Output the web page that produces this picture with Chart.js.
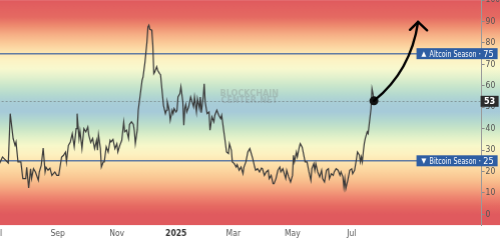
<!DOCTYPE html>
<html>
<head>
<meta charset="utf-8">
<script src="https://cdn.jsdelivr.net/npm/chart.js@4.4.1/dist/chart.umd.min.js"></script>
<style>
    html, body { margin: 0; padding: 0; width: 500px; height: 243px; overflow: hidden; background: #fff; }
    #wrap { position: absolute; left: 0; top: 0; width: 530px; height: 262px; }
</style>
</head>
<body>
<div id="wrap"><canvas id="seasonChart"></canvas></div>
<script>
// days counted from 1 Jul 2024
const days = [
    2, 5, 11, 13, 16, 18, 19, 21, 24, 26, 29, 30, 32, 34, 35, 37, 39, 42, 43, 45,
    47, 49, 50, 52, 54, 56, 59, 61, 63, 66, 68, 70, 71, 73, 75, 77, 79, 81, 82, 84,
    85, 87, 89, 91, 93, 94, 96, 98, 100,
    102, 103, 104, 106, 107, 109, 110, 112, 114, 116, 117, 119, 121, 123, 124, 126, 128, 130, 131, 133,
    135, 136, 138, 140, 141, 142, 144, 145, 147, 149, 150, 152, 154, 155, 156, 157, 159, 160, 161, 162,
    164, 165, 167, 168, 169, 171, 173, 174, 175, 177, 178, 180, 181, 182, 184, 185, 186, 188, 189, 191,
    192, 193, 194, 195, 197,
    199, 200, 202, 203, 205, 206, 208, 209, 210, 212, 213, 214, 216, 218, 219, 221, 223, 224, 226, 228,
    230, 231, 233, 234, 236, 238, 239, 241, 242, 244, 246, 247, 249, 251, 253, 254, 256, 258, 260, 261,
    263, 265, 266, 268, 270, 272, 273, 275, 277, 279, 280, 282, 284, 285, 287, 289, 291, 292, 294, 297,
    298, 300, 302, 304, 305, 306, 308, 309, 311, 312, 314, 316, 317, 319, 321, 323, 324, 326, 327, 328,
    330, 332, 334, 335, 337, 339, 341, 342, 344, 346, 347, 349, 351, 353, 354, 356, 357, 358, 359, 361,
    363, 365, 366, 368, 370, 371, 373, 374, 375, 376, 377, 378, 379, 381, 382, 384, 385, 386, 387, 388
];
const altIndex = [
    23.8, 26.8, 24, 47, 35.4, 32.2, 33.8, 24.5, 24.5, 16.7, 16.7, 22, 12.3, 21.3, 16.7, 21.3, 19.8, 15.9, 19.8, 22.9,
    31, 19.8, 22, 20.6, 21.6, 18.2, 19.8, 18.2, 18.2, 26.8, 27.6, 29.1, 24.5, 32.2, 33.8, 37.7, 31.6, 40, 47, 35.4,
    39, 30.7, 40, 38.5, 40.8, 37, 33.5, 35.4, 30.7,
    34.6, 30, 37.2, 30.7, 22.1, 24.5, 24.5, 31.6, 29.1, 34.6, 33.8, 35, 30.7, 33, 29.1, 32.2, 34.6, 43.1, 38.5, 39.3,
    35.4, 42, 43.2, 42, 38.9, 33, 39.4, 48.6, 55.6, 62.6, 64.2, 71.2, 80.5, 87.5, 88.3, 86.4, 86, 79, 65.7, 66.5,
    68.9, 67.3, 65.7, 65.2, 60.3, 50.9, 47, 48.6, 52.5, 48.6, 43.9, 48.6, 47, 49.4, 47.8, 48.6, 54.8, 56.4, 59.6, 52.5,
    41.6, 49.4, 51.3, 47.8, 50.2,
    54.8, 53.3, 50.2, 54.8, 47.8, 54, 49.4, 54.8, 47.5, 54.8, 61, 52.5, 47, 47.8, 39.3, 45.5, 43.2, 46.3, 48.6, 46.3,
    44.7, 46.3, 39.3, 36.1, 29.1, 28.4, 33, 29.9, 24.5, 23.7, 22.1, 23.2, 20.6, 22.1, 19, 22.1, 24.5, 29.1, 30.7, 29.1,
    26, 22.1, 20.6, 21.3, 19.8, 21.6, 21.3, 18.2, 19.8, 20.6, 16.7, 18.2, 14.3, 14.3, 16.7, 20.6, 22.1, 19.8, 21.3, 16.7,
    20.6, 17.5, 15.1, 18.2, 27.6, 24.5, 29.1, 26.8, 31.4, 33, 31.4, 26.8, 24.5, 24.5, 19.8, 15.9, 21.3, 23.7, 20.6, 23.7,
    19.8, 17.5, 20.6, 16.7, 15.1, 20.6, 21.3, 16.7, 19, 18.2, 19.8, 21.3, 20.6, 18.2, 19.8, 17.5, 12.8, 16.7, 12, 15.9,
    20.6, 21.3, 19, 20.6, 26, 29.1, 27.6, 24.5, 26.8, 24.5, 29.1, 33, 35.4, 38.5, 37.7, 45.5, 49.4, 58.7, 56.4, 53
];
const tickDays = [0, 62, 123, 184, 243, 304, 365];
const tickLabels = ['Jul', 'Sep', 'Nov', '2025', 'Mar', 'May', 'Jul'];
const yTicks = [0, 10, 20, 30, 40, 50, 60, 70, 80, 90, 100];
const altSeason = 75;
const btcSeason = 25;

// background colour by index value
const bandStops = [
    [100, '#e05a5e'], [92, '#e56a62'], [88, '#ee8b6f'], [84, '#f6ae85'], [80, '#fbca98'],
    [76, '#fde3ae'], [72, '#fdf3c4'], [68, '#f8f9cf'], [64, '#e2f1cd'], [60, '#c9e6cb'],
    [56, '#b5dacf'], [52, '#a8cdd7'], [48, '#a6cad9'], [44, '#b3d8cf'], [40, '#c8e5c7'],
    [36, '#e2f1c9'], [32, '#f8f8ca'], [28, '#fdf1c0'], [24, '#fde3ae'], [20, '#fcd49e'],
    [16, '#f9c18f'], [12, '#f5a57f'], [8, '#ee8570'], [4, '#e66a62'], [0, '#e05a5e'], [-5, '#e05a5e']
];

const FONT = '"Liberation Sans Narrow", "DejaVu Sans Condensed", "Liberation Sans", sans-serif';

const bands = {
    id: 'bands',
    beforeDraw(chart) {
        const { ctx, chartArea: a, scales: { y } } = chart;
        const top = y.getPixelForValue(y.max);
        const bottom = y.getPixelForValue(y.min);
        const g = ctx.createLinearGradient(0, top, 0, bottom);
        bandStops.forEach(([v, c]) => g.addColorStop((y.max - v) / (y.max - y.min), c));
        ctx.save();
        ctx.fillStyle = g;
        ctx.fillRect(0, a.top, chart.width, a.bottom - a.top);

        // watermark
        ctx.fillStyle = 'rgba(120,120,120,0.28)';
        ctx.font = 'bold 9px ' + FONT;
        ctx.textAlign = 'center';
        ctx.textBaseline = 'middle';
        const cx = a.left + a.width * 0.52;
        ctx.fillText('BLOCKCHAIN', cx, a.top + 93.5, 60);
        ctx.fillText('CENTER.NET', cx, a.top + 101, 60);
        ctx.restore();
    }
};

const guides = {
    id: 'guides',
    beforeDatasetsDraw(chart) {
        const { ctx, chartArea: a, scales: { y } } = chart;
        ctx.save();
        ctx.strokeStyle = 'rgba(70,105,160,0.85)';
        ctx.lineWidth = 1.5;
        [altSeason, btcSeason].forEach(v => {
            const py = y.getPixelForValue(v);
            ctx.beginPath();
            ctx.moveTo(a.left, py);
            ctx.lineTo(a.right, py);
            ctx.stroke();
        });
        const last = altIndex[altIndex.length - 1];
        const py = Math.round(y.getPixelForValue(last)) + 0.5;
        ctx.strokeStyle = 'rgba(90,90,90,0.6)';
        ctx.lineWidth = 0.8;
        ctx.setLineDash([2, 2]);
        ctx.beginPath();
        ctx.moveTo(a.left, py);
        ctx.lineTo(a.right, py);
        ctx.stroke();
        ctx.restore();
    }
};

function labelBox(ctx, a, py, arrow, name, value) {
    const right = a.right + 16;
    const left = a.right - 65;
    ctx.fillStyle = '#2e5ea3';
    ctx.fillRect(left, py - 5.5, right - left, 11);
    ctx.fillStyle = '#fff';
    ctx.textBaseline = 'middle';
    ctx.textAlign = 'left';
    ctx.font = '7px ' + FONT;
    ctx.fillText(arrow, left + 5, py + 0.5);
    ctx.font = '9px ' + FONT;
    ctx.fillText(name, left + 13, py + 0.5, 47);
    ctx.fillText('·', a.right - 3, py + 0.5);
    ctx.textAlign = 'right';
    ctx.fillText(value, right - 4, py + 0.5);
}

const annotations = {
    id: 'annotations',
    afterDraw(chart) {
        const { ctx, chartArea: a, scales: { x, y } } = chart;
        const n = days.length - 1;
        const px = x.getPixelForValue(days[n]);
        const py = y.getPixelForValue(altIndex[n]);
        ctx.save();

        // arrow
        const tip = { x: px + 44, y: py - 79 };
        ctx.strokeStyle = '#000';
        ctx.lineWidth = 2.4;
        ctx.lineCap = 'round';
        ctx.lineJoin = 'round';
        ctx.beginPath();
        ctx.moveTo(px, py);
        ctx.quadraticCurveTo(px + 37, py - 30, tip.x, tip.y);
        ctx.stroke();
        ctx.beginPath();
        ctx.moveTo(tip.x - 8, tip.y + 8);
        ctx.lineTo(tip.x, tip.y);
        ctx.lineTo(tip.x + 9, tip.y + 8.5);
        ctx.stroke();

        labelBox(ctx, a, y.getPixelForValue(altSeason), '▲', 'Altcoin Season', String(altSeason));
        labelBox(ctx, a, y.getPixelForValue(btcSeason), '▼', 'Bitcoin Season', String(btcSeason));

        // current value tag
        ctx.fillStyle = '#2b2b2b';
        ctx.fillRect(a.right - 1, py - 5, 18, 11);
        ctx.fillStyle = '#fff';
        ctx.font = 'bold 9px ' + FONT;
        ctx.textAlign = 'center';
        ctx.textBaseline = 'middle';
        ctx.fillText(String(Math.round(altIndex[n])), a.right + 8, py + 0.5);
        ctx.restore();
    }
};

const canvas = document.getElementById('seasonChart');
const chart = new Chart(canvas, {
    type: 'line',
    data: {
        datasets: [{
            data: days.map((d, i) => ({ x: d, y: altIndex[i] })),
            borderColor: '#3a3a3a',
            borderWidth: 1.2,
            tension: 0,
            pointRadius: c => c.dataIndex === days.length - 1 ? 4.5 : 0,
            pointBackgroundColor: '#111',
            pointBorderWidth: 0
        }]
    },
    options: {
        responsive: true,
        maintainAspectRatio: false,
        animation: false,
        layout: { padding: 0 },
        plugins: { legend: { display: false }, tooltip: { enabled: false } },
        scales: {
            x: {
                type: 'linear',
                min: 0,
                max: 499,
                border: { display: false },
                grid: { display: false, drawTicks: false },
                afterBuildTicks: s => { s.ticks = tickDays.map(v => ({ value: v })); },
                afterFit: s => { s.height = 18; },
                ticks: {
                    autoSkip: false,
                    maxRotation: 0,
                    padding: 4,
                    color: c => c.tick && c.tick.value === 184 ? '#333' : '#555',
                    font: c => ({ family: FONT, size: 8.5, weight: c.tick && c.tick.value === 184 ? 'bold' : 'normal' }),
                    callback: v => tickLabels[tickDays.indexOf(v)]
                }
            },
            y: {
                position: 'right',
                min: -5,
                max: 100,
                border: { display: true, color: '#9a9a9a', width: 1 },
                grid: { drawOnChartArea: false, drawTicks: true, tickLength: 3, color: '#8a8a8a' },
                afterBuildTicks: s => { s.ticks = yTicks.map(v => ({ value: v })); },
                afterFit: s => { s.width = 30; },
                ticks: { padding: 1, color: '#555', font: { family: FONT, size: 8.5 } }
            }
        }
    },
    plugins: [bands, guides, annotations]
});

// fit the plot area to the picture: 483 x 225, starting 2px left of the page
const wrap = document.getElementById('wrap');
let ca = chart.chartArea;
wrap.style.width = (530 + 483 - (ca.right - ca.left)) + 'px';
wrap.style.height = (262 + 225 - (ca.bottom - ca.top)) + 'px';
chart.resize();
ca = chart.chartArea;
wrap.style.left = (-2 - ca.left) + 'px';
wrap.style.top = (-ca.top) + 'px';
</script>
</body>
</html>
